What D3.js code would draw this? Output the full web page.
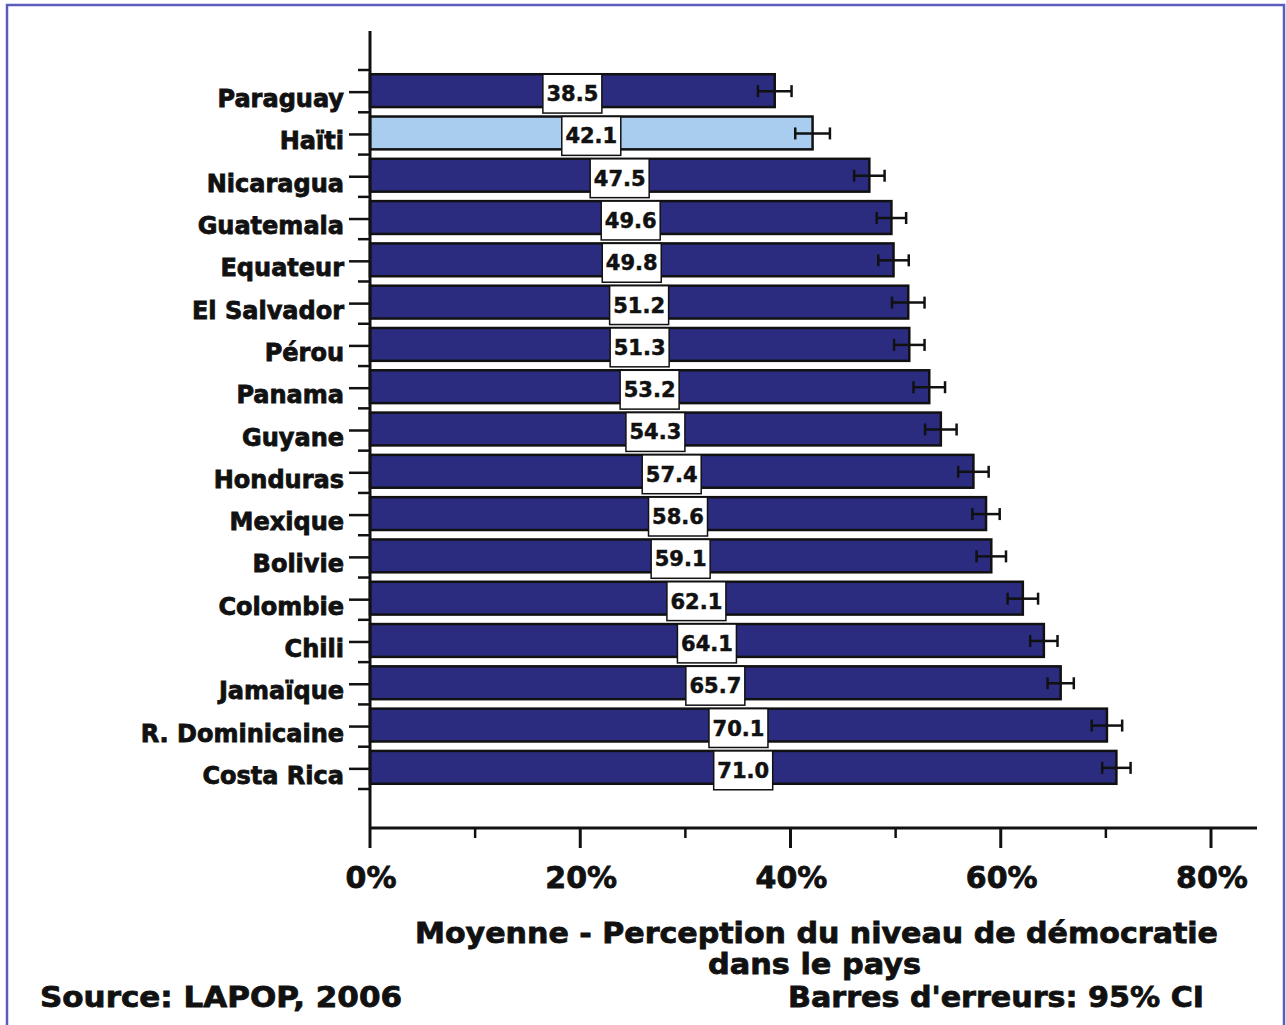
<!DOCTYPE html>
<html>
<head>
<meta charset="utf-8">
<script src="https://cdn.jsdelivr.net/npm/d3@7"></script>
<style>
  html, body { margin: 0; padding: 0; background: #fff; }
  svg { display: block; }
  text { font-family: "DejaVu Sans", sans-serif; font-weight: bold; fill: #111; }
</style>
</head>
<body>
<svg id="chart" width="1286" height="1025"></svg>
<script>
const countries = ["Paraguay","Haïti","Nicaragua","Guatemala","Equateur","El Salvador","Pérou","Panama","Guyane","Honduras","Mexique","Bolivie","Colombie","Chili","Jamaïque","R. Dominicaine","Costa Rica"];
const means = [38.5,42.1,47.5,49.6,49.8,51.2,51.3,53.2,54.3,57.4,58.6,59.1,62.1,64.1,65.7,70.1,71.0];
const ciHalf = [1.6,1.65,1.45,1.4,1.45,1.55,1.45,1.5,1.5,1.45,1.3,1.4,1.45,1.3,1.25,1.45,1.35];
const highlight = ["Haïti"];
const xTicks = [0,20,40,60,80];
const xMinorTicks = [10,30,50,70];
const axisTitle = ["Moyenne - Perception du niveau de démocratie", "dans le pays"];
const sourceText = "Source: LAPOP, 2006";
const errorNote = "Barres d'erreurs: 95% CI";

const svg = d3.select("#chart");
const data = countries.map((c,i)=>({c, v: means[i], e: ciHalf[i]}));

// frame
svg.append("rect").attr("x",7).attr("y",5).attr("width",1277).attr("height",1030)
  .attr("fill","#fff").attr("stroke","#5c5cc0").attr("stroke-width",2.5);

const x = d3.scaleLinear().domain([0,80]).range([370,1211]);
const y = d3.scaleBand().domain(countries).range([70,789]).paddingInner(0.2).paddingOuter(0.1);

const axisY0 = 31, axisY1 = 828, axisX1 = 1257;

// bars
const g = svg.append("g");
g.selectAll("rect.bar").data(data).join("rect")
  .attr("class","bar")
  .attr("x", x(0))
  .attr("y", d=>y(d.c))
  .attr("width", d=>x(d.v)-x(0))
  .attr("height", y.bandwidth()-1)
  .attr("fill", d=>highlight.includes(d.c) ? "#a9cdee" : "#2b2c80")
  .attr("stroke","#111").attr("stroke-width",2.5);

// error bars
const eg = g.selectAll("g.err").data(data).join("g").attr("class","err")
  .attr("transform", d=>`translate(0,${y(d.c)+y.bandwidth()/2})`);
eg.append("line").attr("x1",d=>x(d.v-d.e)).attr("x2",d=>x(d.v+d.e)).attr("y1",0).attr("y2",0)
  .attr("stroke","#111").attr("stroke-width",2.5);
eg.append("line").attr("x1",d=>x(d.v-d.e)).attr("x2",d=>x(d.v-d.e)).attr("y1",-6).attr("y2",6)
  .attr("stroke","#111").attr("stroke-width",2.5);
eg.append("line").attr("x1",d=>x(d.v+d.e)).attr("x2",d=>x(d.v+d.e)).attr("y1",-6).attr("y2",6)
  .attr("stroke","#111").attr("stroke-width",2.5);

// value boxes
const boxW = 59;
const vg = g.selectAll("g.val").data(data).join("g").attr("class","val")
  .attr("transform", d=>`translate(${x(d.v/2)},${y(d.c)})`);
vg.append("rect").attr("x",-boxW/2).attr("y",0).attr("width",boxW).attr("height",y.bandwidth()+5)
  .attr("fill","#fff").attr("stroke","#111").attr("stroke-width",1.5);
vg.append("text").attr("x",0).attr("y",y.bandwidth()/2+10)
  .attr("text-anchor","middle").style("font-size","21px")
  .attr("stroke","#111").attr("stroke-width",0.5)
  .text(d=>d3.format(".1f")(d.v));

// y axis
svg.append("line").attr("x1",370).attr("x2",370).attr("y1",axisY0).attr("y2",axisY1)
  .attr("stroke","#111").attr("stroke-width",3);
const bounds = countries.map(c=>y(c)-y.step()*y.paddingInner()/2).concat([y(countries[countries.length-1])+y.bandwidth()+y.step()*y.paddingInner()/2]);
svg.selectAll("line.bt").data(bounds).join("line").attr("class","bt")
  .attr("x1",358).attr("x2",370).attr("y1",d=>d).attr("y2",d=>d)
  .attr("stroke","#111").attr("stroke-width",2.5);
svg.selectAll("line.lt").data(countries).join("line").attr("class","lt")
  .attr("x1",349).attr("x2",369).attr("y1",c=>y(c)+y.bandwidth()/2+1).attr("y2",c=>y(c)+y.bandwidth()/2+1)
  .attr("stroke","#111").attr("stroke-width",2.5);
svg.selectAll("text.cat").data(countries).join("text").attr("class","cat")
  .attr("x",344).attr("y",c=>y(c)+y.bandwidth()/2+16)
  .attr("text-anchor","end").style("font-size","24px")
  .attr("stroke","#111").attr("stroke-width",0.8)
  .text(c=>c);

// x axis
svg.append("line").attr("x1",369).attr("x2",axisX1).attr("y1",axisY1).attr("y2",axisY1)
  .attr("stroke","#111").attr("stroke-width",3);
svg.selectAll("line.xt").data(xTicks).join("line").attr("class","xt")
  .attr("x1",d=>x(d)).attr("x2",d=>x(d)).attr("y1",axisY1).attr("y2",axisY1+20)
  .attr("stroke","#111").attr("stroke-width",3);
svg.selectAll("line.xmt").data(xMinorTicks).join("line").attr("class","xmt")
  .attr("x1",d=>x(d)).attr("x2",d=>x(d)).attr("y1",axisY1).attr("y2",axisY1+10)
  .attr("stroke","#111").attr("stroke-width",2.5);
svg.selectAll("text.xl").data(xTicks).join("text").attr("class","xl")
  .attr("x",d=>x(d)+1).attr("y",888).attr("text-anchor","middle")
  .attr("stroke","#111").attr("stroke-width",0.8)
  .style("font-size","30px").text(d=>d+"%");

// titles
svg.append("text").attr("x",415).attr("y",943)
  .attr("textLength",803).attr("lengthAdjust","spacingAndGlyphs")
  .attr("stroke","#111").attr("stroke-width",0.8)
  .style("font-size","29px").text(axisTitle[0]);
svg.append("text").attr("x",708).attr("y",974)
  .attr("textLength",213).attr("lengthAdjust","spacingAndGlyphs")
  .attr("stroke","#111").attr("stroke-width",0.8)
  .style("font-size","29px").text(axisTitle[1]);
svg.append("text").attr("x",40).attr("y",1007)
  .attr("textLength",362).attr("lengthAdjust","spacingAndGlyphs")
  .attr("stroke","#111").attr("stroke-width",0.8)
  .style("font-size","29px").text(sourceText);
svg.append("text").attr("x",788).attr("y",1007)
  .attr("textLength",416).attr("lengthAdjust","spacingAndGlyphs")
  .attr("stroke","#111").attr("stroke-width",0.8)
  .style("font-size","29px").text(errorNote);
</script>
</body>
</html>
